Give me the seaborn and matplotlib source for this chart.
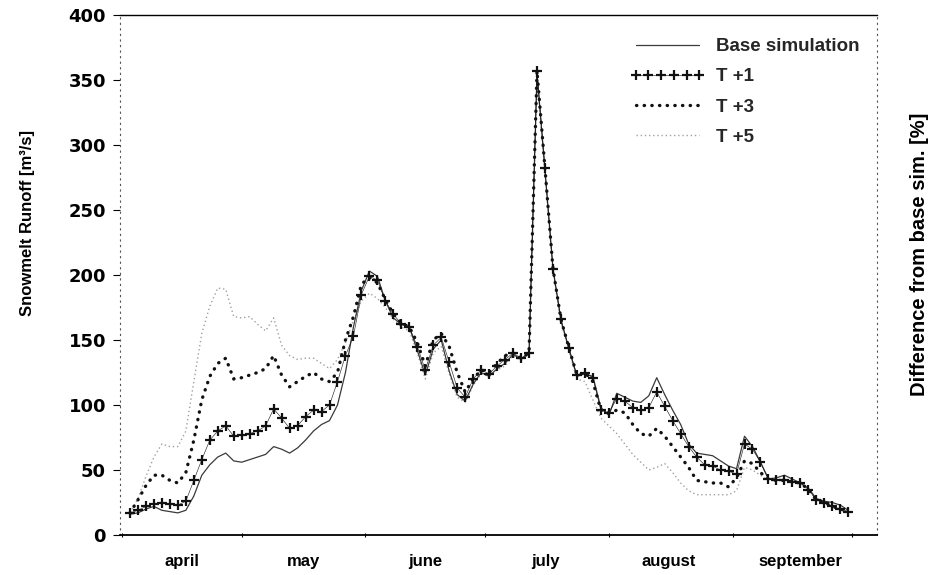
import matplotlib
matplotlib.use("Agg")
import matplotlib.pyplot as plt
import seaborn as sns

# Season day (0 = 1 April), sampled every second day
days = list(range(2, 184, 2))

# Snowmelt runoff [m3/s] for the base run and the warming scenarios
base = [16, 17, 20, 22, 19, 18, 17, 19, 30, 46,
        54, 60, 63, 57, 56, 58, 60, 62, 68, 66,
        63, 67, 73, 80, 85, 88, 100, 125, 160, 188,
        203, 199, 180, 167, 162, 160, 142, 123, 143, 150,
        126, 108, 103, 116, 125, 122, 128, 132, 139, 135,
        140, 355, 280, 205, 165, 143, 122, 124, 122, 98,
        92, 109, 106, 103, 102, 107, 121, 108, 96, 85,
        70, 63, 62, 61, 57, 53, 51, 76, 68, 56,
        43, 44, 46, 43, 40, 36, 28, 26, 25, 23,
        19]
t_plus1 = [17, 19, 22, 24, 25, 24, 23, 26, 42, 58,
           73, 80, 84, 76, 77, 78, 80, 84, 97, 90,
           82, 84, 91, 96, 95, 100, 118, 138, 153, 185,
           199, 196, 180, 170, 162, 160, 145, 127, 146, 152,
           133, 113, 106, 120, 127, 124, 130, 135, 140, 136,
           140, 357, 282, 205, 166, 144, 123, 125, 121, 96,
           94, 105, 103, 98, 96, 98, 110, 99, 88, 78,
           68, 60, 54, 53, 50, 49, 47, 70, 66, 56,
           43, 42, 42, 41, 40, 35, 27, 25, 22, 20,
           18]
t_plus3 = [17, 27, 38, 46, 46, 42, 40, 48, 73, 104,
           122, 132, 136, 120, 121, 123, 125, 128, 138, 123,
           114, 118, 122, 125, 120, 118, 125, 150, 168, 193,
           198, 194, 181, 170, 163, 160, 148, 130, 150, 155,
           145, 125, 110, 120, 127, 125, 132, 138, 140, 136,
           140, 357, 282, 205, 166, 144, 123, 125, 118, 96,
           94, 96, 94, 85, 78, 76, 82, 76, 68, 60,
           52, 42, 41, 40, 40, 37, 44, 57, 55, 48,
           43, 42, 42, 41, 40, 35, 27, 25, 22, 20,
           18]
t_plus5 = [17, 28, 45, 60, 70, 68, 68, 80, 118, 155,
           176, 190, 189, 168, 167, 168, 162, 157, 167, 146,
           138, 135, 136, 136, 132, 128, 135, 148, 165, 180,
           186, 182, 175, 166, 160, 157, 140, 120, 140, 145,
           124, 106, 102, 115, 124, 122, 127, 130, 138, 134,
           138, 352, 278, 203, 164, 142, 120, 118, 104, 90,
           84, 78, 70, 62, 56, 50, 52, 55, 48, 40,
           34, 31, 31, 31, 31, 31, 34, 52, 50, 46,
           42, 42, 42, 41, 40, 35, 27, 25, 22, 20,
           18]

months = ["april", "may", "june", "july", "august", "september"]
month_mid = [15, 45.5, 76, 106, 137, 170]
month_edges = [0, 30, 61, 91, 122, 153, 183]
y_ticks = [0, 50, 100, 150, 200, 250, 300, 350, 400]

sns.set_theme(style="white")
plt.rcParams["font.family"] = ["Liberation Sans", "DejaVu Sans"]
plt.rcParams["font.weight"] = "bold"

fig = plt.figure(figsize=(9.46, 5.75), dpi=100)
ax = fig.add_axes([120 / 946, 1 - 535 / 575, 757 / 946, 520 / 575])

sns.lineplot(x=days, y=t_plus5, ax=ax, color="#a0a0a0", lw=1.0,
             linestyle=(0, (1, 2)), label="T +5", zorder=2)
sns.lineplot(x=days, y=base, ax=ax, color="#3a3a3a", lw=0.9,
             label="Base simulation", zorder=3)
sns.lineplot(x=days, y=t_plus3, ax=ax, color="#111111", lw=2.4,
             linestyle=(0, (0.1, 2.2)), dash_capstyle="round",
             label="T +3", zorder=4)
sns.lineplot(x=days, y=t_plus1, ax=ax, color="#111111", lw=0.4,
             label="T +1", zorder=5)
# crosses along the T +1 curve
cross_line = ax.lines[-1]
cross_line.set_marker("+")
cross_line.set_markersize(6.5)
cross_line.set_markeredgewidth(1.6)
cross_line.set_markeredgecolor("#111111")
cross_line.set_linestyle("-")

ax.set_xlim(-0.5, 189.2)
ax.set_ylim(0, 400)

ax.set_xticks(month_mid)
ax.set_xticklabels(months, fontsize=12, fontweight="bold")
ax.set_xticks(month_edges, minor=True)
ax.tick_params(axis="x", which="major", length=0, pad=14, colors="black")
ax.tick_params(axis="x", which="minor", length=3, width=0.8,
               direction="inout", bottom=True, color="black")

ax.set_yticks(y_ticks)
ax.set_yticklabels([str(v) for v in y_ticks], fontsize=13,
                   fontweight="bold", family="DejaVu Sans")
ax.tick_params(axis="y", length=5, width=0.8, left=True, pad=5,
               color="black", labelcolor="black")

ax.set_ylabel("Snowmelt Runoff [m³/s]", fontsize=12, fontweight="bold",
              color="black")
ax.yaxis.set_label_coords(-0.112, 0.6)

for side in ("top", "bottom"):
    ax.spines[side].set_color("black")
ax.spines["top"].set_linewidth(1.0)
ax.spines["bottom"].set_linewidth(1.3)
for side in ("left", "right"):
    ax.spines[side].set_color("#555555")
    ax.spines[side].set_linewidth(0.8)
    ax.spines[side].set_linestyle((0, (1, 4)))

ax_r = ax.twinx()
ax_r.set_ylim(0, 400)
ax_r.set_yticks([])
for side in ax_r.spines:
    ax_r.spines[side].set_visible(False)
ax_r.set_ylabel("Difference from base sim. [%]", fontsize=14.5,
                fontweight="bold", color="black")
ax_r.yaxis.set_label_coords(1.044, 0.54)

handles, labels = ax.get_legend_handles_labels()
order = ["Base simulation", "T +1", "T +3", "T +5"]
hmap = dict(zip(labels, handles))
leg = ax.legend([hmap[k] for k in order], order, loc="upper left",
                bbox_to_anchor=(630 / 946, 1 - 38 / 575),
                bbox_transform=fig.transFigure, frameon=False,
                fontsize=13.5, handlelength=4, handletextpad=0.6,
                labelspacing=0.7, numpoints=6, borderpad=0,
                borderaxespad=0)
for t in leg.get_texts():
    t.set_fontweight("bold")

fig.savefig("out.png", dpi=100)
